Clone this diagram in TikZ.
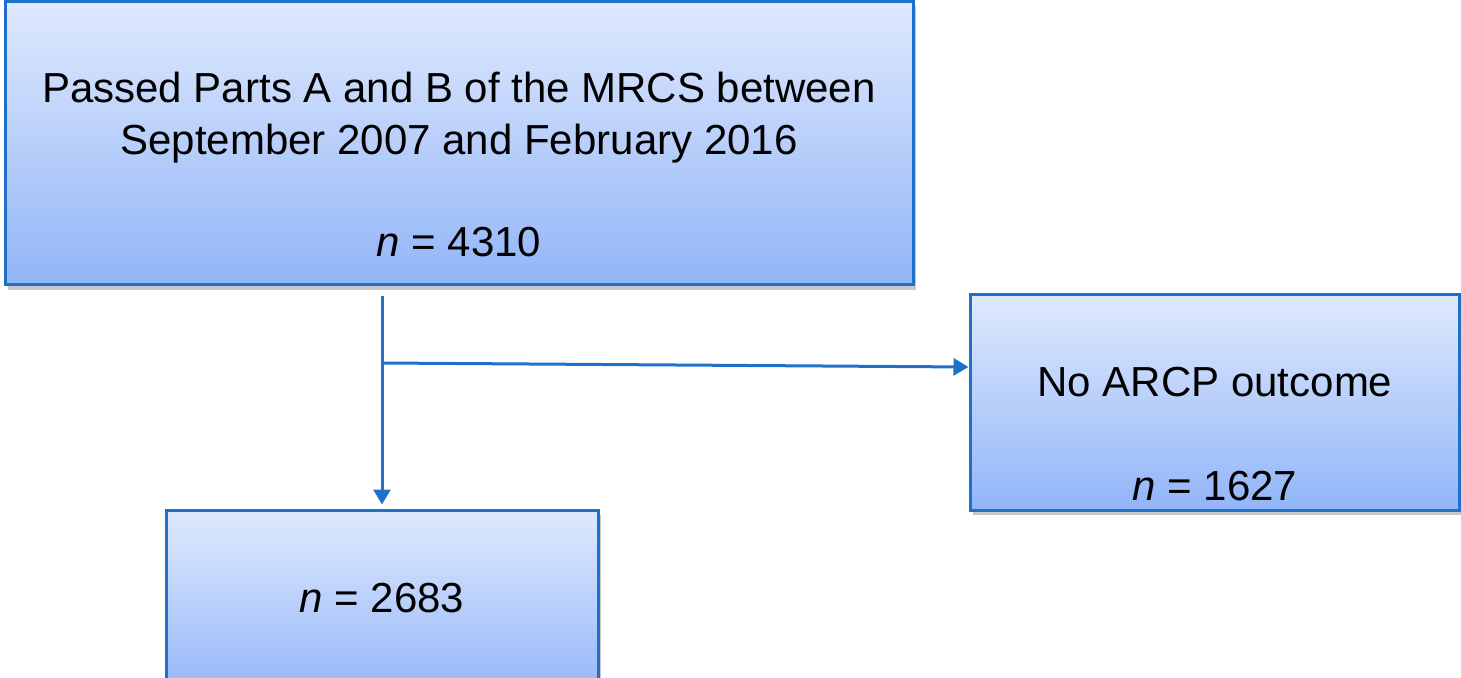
\documentclass[tikz,border=0pt]{standalone}
\usepackage{fontspec}
\setmainfont{Liberation Sans}
\usetikzlibrary{arrows.meta,shadows,fit}

\definecolor{boxedge}{RGB}{31,112,201}
\definecolor{boxtop}{RGB}{223,233,253}
\definecolor{boxbottom}{RGB}{146,181,248}

\tikzset{
  flowbox/.style={
    draw=boxedge, line width=1.5pt, inner sep=0pt,
    top color=boxtop, bottom color=boxbottom,
    drop shadow={shadow xshift=1.5pt, shadow yshift=-2.5pt,
                 fill=black, opacity=0.22}
  },
  boxtext/.style={anchor=base, inner sep=0pt, font=\fontsize{21pt}{26pt}\selectfont},
  flowarrow/.style={draw=boxedge, line width=1.5pt,
    -{Triangle[length=7.5pt,width=8.5pt]}}
}

\begin{document}
\begin{tikzpicture}[x=0.5pt,y=-0.5pt]
  \useasboundingbox (0,0) rectangle (1461,678);
  \clip (0,0) rectangle (1461,678);

  % boxes
  \node[flowbox, fit={(5,1.5) (913,285)}] (start) {};
  \node[flowbox, fit={(970,295) (1459.5,510)}] (excl) {};
  \node[flowbox, fit={(166,510) (598,700)}] (final) {};

  % texts
  \node[boxtext] (l1) at (459,103) {Passed Parts A and B of the MRCS between};
  \node[boxtext] (l2) at (459,155) {September 2007 and February 2016};
  \node[boxtext] (l3) at (459,257) {\textit{n} = 4310};
  \node[boxtext] (r1) at (1215,397) {No ARCP outcome};
  \node[boxtext] (r2) at (1215,500) {\textit{n} = 1627};
  \node[boxtext] (b1) at (382,612) {\textit{n} = 2683};

  % connectors
  \coordinate (split) at (final.north |- 0,363);
  \coordinate (exclin) at (excl.west |- 0,367);
  \draw[flowarrow, shorten <=5pt, shorten >=2pt] (start.south -| final.north) -- (final.north);
  \draw[flowarrow] (split) -- (exclin);
\end{tikzpicture}
\end{document}
